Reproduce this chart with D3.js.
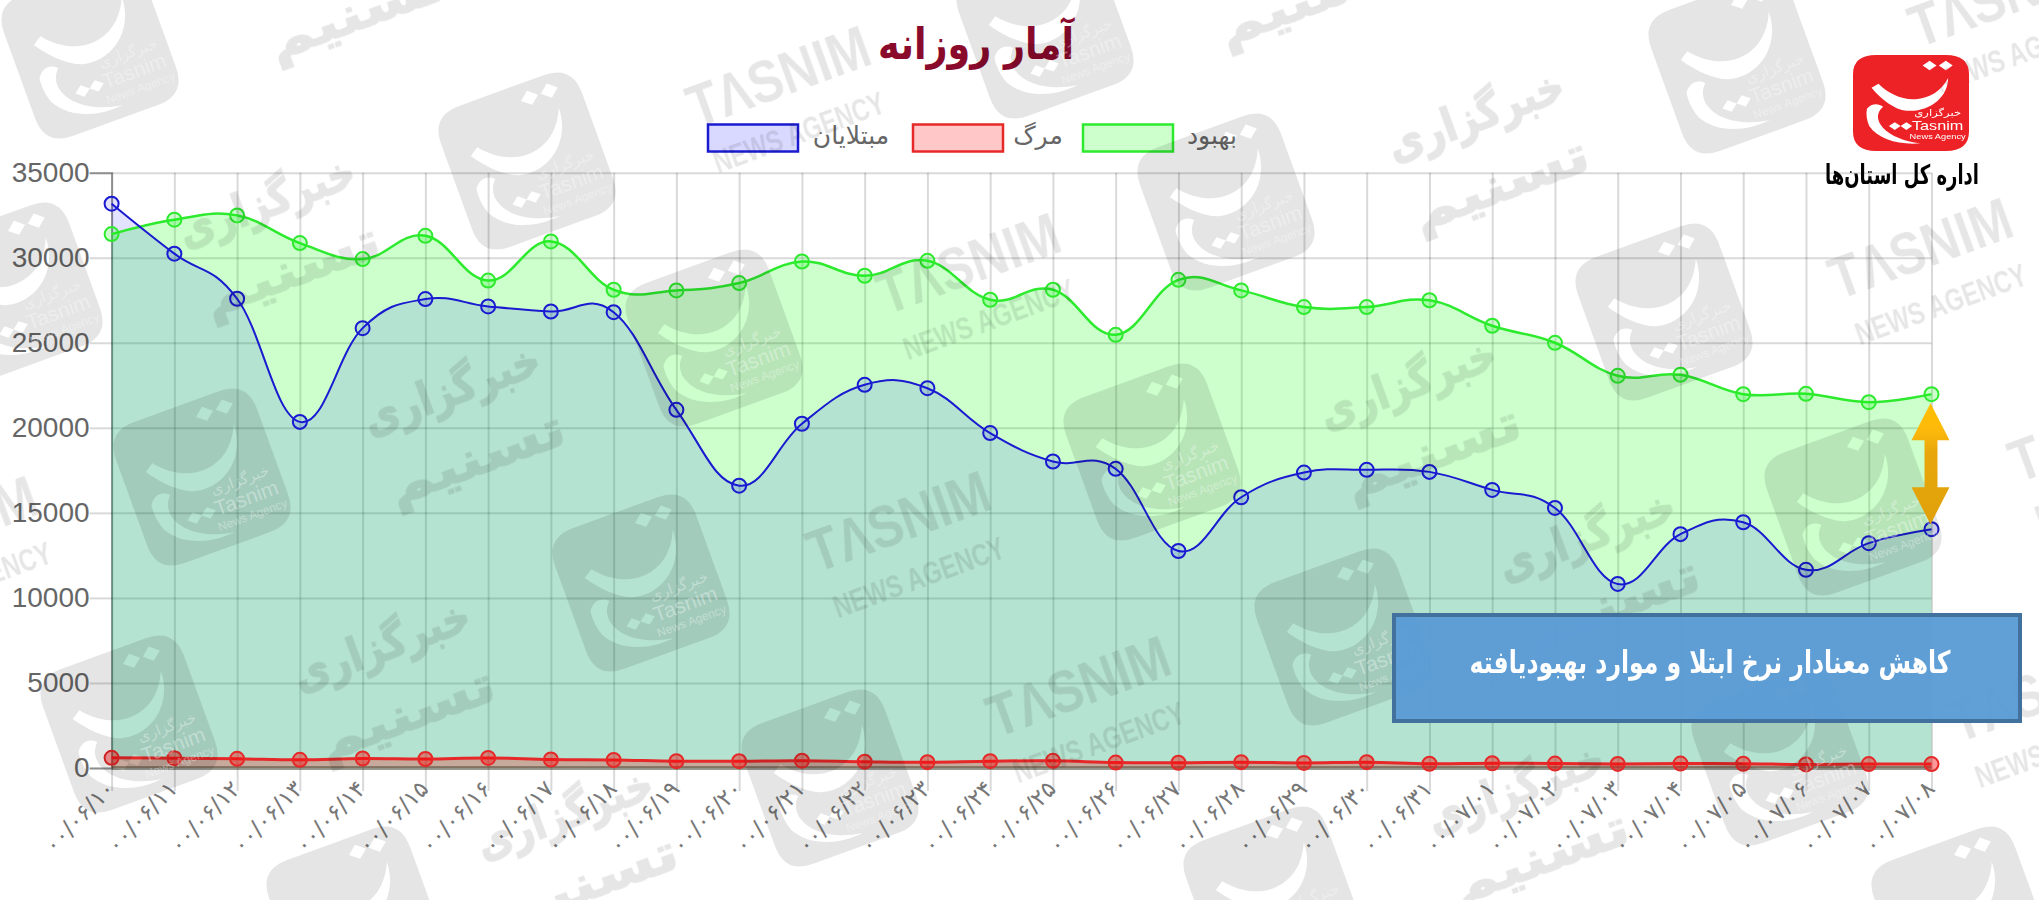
<!DOCTYPE html>
<html lang="fa">
<head>
<meta charset="utf-8">
<title>آمار روزانه</title>
<script src="https://cdnjs.cloudflare.com/ajax/libs/d3/7.8.5/d3.min.js"></script>
<style>
  html, body { margin: 0; padding: 0; background: #fff; }
  svg { display: block; }
  text { font-family: "DejaVu Sans", sans-serif; }
  .tick text { fill: #666; }
  .y-labels text { font-family: "Liberation Sans", Arial, sans-serif; font-size: 28px; }
  .x-labels text { font-size: 23px; letter-spacing: 3px; direction: ltr; fill: #777; }
</style>
</head>
<body>
<svg id="chart" width="2039" height="900"></svg>
<script>
const dates = ['۰۰/۰۶/۱۰', '۰۰/۰۶/۱۱', '۰۰/۰۶/۱۲', '۰۰/۰۶/۱۳', '۰۰/۰۶/۱۴', '۰۰/۰۶/۱۵', '۰۰/۰۶/۱۶', '۰۰/۰۶/۱۷',
  '۰۰/۰۶/۱۸', '۰۰/۰۶/۱۹', '۰۰/۰۶/۲۰', '۰۰/۰۶/۲۱', '۰۰/۰۶/۲۲', '۰۰/۰۶/۲۳', '۰۰/۰۶/۲۴', '۰۰/۰۶/۲۵', '۰۰/۰۶/۲۶',
  '۰۰/۰۶/۲۷', '۰۰/۰۶/۲۸', '۰۰/۰۶/۲۹', '۰۰/۰۶/۳۰', '۰۰/۰۶/۳۱', '۰۰/۰۷/۰۱', '۰۰/۰۷/۰۲', '۰۰/۰۷/۰۳', '۰۰/۰۷/۰۴',
  '۰۰/۰۷/۰۵', '۰۰/۰۷/۰۶', '۰۰/۰۷/۰۷', '۰۰/۰۷/۰۸'];

const infected = [33180, 30240, 27590, 20350, 25860, 27570, 27140, 26840, 26800, 21060, 16600, 20240, 22530, 22330,
  19690, 18020, 17590, 12760, 15920, 17370, 17530, 17410, 16350, 15290, 10820, 13750, 14450, 11650, 13220, 14040];
const recovered = [31390, 32240, 32490, 30860, 29920, 31290, 28660, 30960, 28120, 28080, 28510, 29780, 28940, 29820,
  27530, 28120, 25470, 28700, 28080, 27100, 27100, 27500, 26000, 25000, 23060, 23120, 21980, 22000, 21510, 21980];
const deaths = [600, 580, 540, 480, 560, 530, 590, 500, 470, 400, 400, 430, 370, 340, 400, 420, 320, 310, 340, 300,
  340, 250, 280, 260, 240, 260, 250, 210, 230, 230];

const yTicks = [0, 5000, 10000, 15000, 20000, 25000, 30000, 35000];

// watermark stamps over the picture
const stampLogos = [[90, 50], [527, 161], [1045, 30], [1737, 65], [14, 291], [714, 338], [1226, 202], [1664, 312],
  [202, 477], [641, 583], [1152, 452], [1853, 507], [129, 724], [1343, 637], [830, 778], [1780, 757], [355, 915],
  [1272, 895], [1960, 915]];
const stampEnglish = [[778, 75], [968, 262], [1920, 247], [2000, -5], [-55, 525], [898, 520], [1078, 685], [2100, 430], [2040, 690]];
const stampPersian = [[332, -54], [267, 203], [452, 391], [382, 647], [565, 815], [1476, 117], [1408, 385], [1587, 537], [1516, 790], [1282, -68]];

const svg = d3.select('#chart');

const x = d3.scalePoint().domain(dates).range([111.6, 1931.5]);
const y = d3.scaleLinear().domain([0, 35000]).range([768, 172.7]);

// same look as a chart.js tension 0.4 spline
const curve = d3.curveCardinal.tension(-0.2);

const series = [
  { name: 'بهبود', values: recovered, stroke: '#2eea2e', fill: 'rgba(0,255,0,0.2)', width: 2.5 },
  { name: 'مبتلایان', values: infected, stroke: '#1a1ad0', fill: 'rgba(0,0,255,0.11)', width: 2 },
  { name: 'مرگ', values: deaths, stroke: '#e62828', fill: 'rgba(255,0,0,0.25)', width: 3 }
];

// grid
svg.append('g')
  .attr('transform', `translate(0,${y(35000)})`)
  .call(d3.axisTop(x).tickSize(-(y(0) - y(35000) + 23)).tickFormat(''))
  .call(g => g.select('.domain').remove())
  .call(g => g.selectAll('line').attr('stroke', 'rgba(0,0,0,0.15)').attr('stroke-width', 2));

svg.append('g')
  .attr('class', 'y-labels')
  .attr('transform', `translate(${x(dates[0])},0)`)
  .call(d3.axisLeft(y).tickValues(yTicks).tickSizeOuter(0).tickFormat(d3.format('d')).tickSize(22).tickPadding(0))
  .call(g => g.select('.domain').attr('stroke', 'rgba(0,0,0,0.35)').attr('stroke-width', 2))
  .call(g => g.selectAll('line').attr('stroke', 'rgba(0,0,0,0.15)').attr('stroke-width', 2));

svg.append('g')
  .attr('transform', `translate(${x(dates[0])},0)`)
  .call(d3.axisRight(y).tickValues(yTicks).tickSize(x.range()[1] - x.range()[0]).tickFormat(''))
  .call(g => g.select('.domain').remove())
  .call(g => g.selectAll('line').attr('stroke', 'rgba(0,0,0,0.15)').attr('stroke-width', 2));

svg.append('g')
  .attr('class', 'x-labels')
  .attr('transform', `translate(0,${y(0)})`)
  .call(d3.axisBottom(x).tickSize(0).tickPadding(0))
  .call(g => g.select('.domain').remove())
  .call(g => g.selectAll('text')
    .attr('text-anchor', 'end')
    .attr('dy', 0)
    .attr('transform', 'translate(4,22) rotate(-46)'));

// areas, then lines and points
const area = d3.area().curve(curve).x((d, i) => x(dates[i])).y0(y(0)).y1(d => y(d));
const line = d3.line().curve(curve).x((d, i) => x(dates[i])).y(d => y(d));

series.forEach(s => {
  svg.append('path').datum(s.values).attr('d', area).attr('fill', s.fill);
});

svg.append('line')
  .attr('x1', x(dates[0])).attr('x2', x(dates[dates.length - 1]))
  .attr('y1', y(0)).attr('y2', y(0))
  .attr('stroke', 'rgba(60,60,40,0.45)').attr('stroke-width', 4);

series.forEach(s => {
  svg.append('path').datum(s.values).attr('d', line)
    .attr('fill', 'none').attr('stroke', s.stroke).attr('stroke-width', s.width);
  svg.append('g').selectAll('circle').data(s.values).join('circle')
    .attr('cx', (d, i) => x(dates[i]))
    .attr('cy', d => y(d))
    .attr('r', 7)
    .attr('fill', s.name === 'مرگ' ? 'rgba(255,0,0,0.4)' : s.fill)
    .attr('stroke', s.stroke)
    .attr('stroke-width', 2);
});

// title and legend
svg.append('text').attr('x', 976).attr('y', 59)
  .attr('text-anchor', 'middle').attr('font-size', 44).attr('font-weight', 'bold')
  .attr('textLength', 196).attr('lengthAdjust', 'spacingAndGlyphs')
  .attr('fill', '#8a0a2c').text('آمار روزانه');

const legend = [
  { name: 'مبتلایان', box: 708, label: 851, stroke: '#1a1ad0', fill: 'rgba(0,0,255,0.15)' },
  { name: 'مرگ', box: 913, label: 1038, stroke: '#e62828', fill: 'rgba(255,0,0,0.22)' },
  { name: 'بهبود', box: 1083, label: 1212, stroke: '#2eea2e', fill: 'rgba(0,255,0,0.2)' }
];
legend.forEach(l => {
  svg.append('rect').attr('x', l.box).attr('y', 124.5).attr('width', 90).attr('height', 27)
    .attr('fill', l.fill).attr('stroke', l.stroke).attr('stroke-width', 2.5);
  svg.append('text').attr('x', l.label).attr('y', 144)
    .attr('text-anchor', 'middle').attr('font-size', 25).attr('fill', '#666').text(l.name);
});

// logo shape, unit box 100x100
const glyph = 'M82,24 C82,44 66,60 46,58 C36,57 24,46 16,34 L22,30 C30,40 42,47 54,46 C66,45 76,38 82,24Z ' +
  'M12,56 C16,50 22,50 26,54 C20,60 20,68 26,76 C32,84 44,90 58,92 C40,94 22,88 14,74 C12,68 11,62 12,56Z ' +
  'M66,6 L72,11 L66,16 L60,11Z M80,6 L86,11 L80,16 L74,11Z M36,70 L41,74 L36,78 L31,74Z M46,70 L51,74 L46,78 L41,74Z';

function logoBody(g, fill, textFill) {
  g.append('path')
    .attr('fill-rule', 'evenodd')
    .attr('fill', fill)
    .attr('d', 'M20,0 H80 Q100,0 100,20 V80 Q100,100 80,100 H20 Q0,100 0,80 V20 Q0,0 20,0Z ' + glyph);
  g.append('text').attr('x', 73).attr('y', 64).attr('text-anchor', 'middle')
    .attr('font-size', 10).attr('fill', textFill).text('خبرگزاری');
  g.append('text').attr('x', 73).attr('y', 78).attr('text-anchor', 'middle')
    .attr('font-size', 14).style('font-family', '"Liberation Sans"').attr('fill', textFill).text('Tasnim');
  g.append('text').attr('x', 73).attr('y', 88).attr('text-anchor', 'middle')
    .attr('font-size', 8).style('font-family', '"Liberation Sans"').attr('fill', textFill).text('News Agency');
}

// watermarks
stampLogos.forEach(([cx, cy]) => {
  let g = svg.append('g').attr('transform', `translate(${cx},${cy}) rotate(-20) scale(1.5) translate(-50,-50)`);
  logoBody(g, 'rgba(0,0,0,0.1)', 'rgba(255,255,255,0.35)');
});

const stamps = svg.append('g').attr('opacity', 0.1).attr('fill', '#000').attr('stroke', '#000');

stampEnglish.forEach(([cx, cy]) => {
  let g = stamps.append('g').attr('transform', `translate(${cx},${cy}) rotate(-20)`).attr('stroke', 'none');
  g.append('text').attr('text-anchor', 'middle').attr('y', 22)
    .attr('textLength', 190).attr('lengthAdjust', 'spacingAndGlyphs')
    .style('font-family', '"Liberation Sans"').attr('font-weight', 'bold').attr('font-size', 60).text('TΛSNIM');
  g.append('text').attr('text-anchor', 'middle').attr('x', 0).attr('y', 72)
    .attr('textLength', 180).attr('lengthAdjust', 'spacingAndGlyphs')
    .style('font-family', '"Liberation Sans"').attr('font-weight', 'bold').attr('font-size', 32).text('NEWS AGENCY');
});

stampPersian.forEach(([cx, cy]) => {
  let g = stamps.append('g').attr('transform', `translate(${cx},${cy}) rotate(-20)`).attr('stroke-width', 1.5);
  if (cy > -40) {
    g.append('text').attr('text-anchor', 'middle').attr('y', 14)
      .attr('textLength', 185).attr('lengthAdjust', 'spacingAndGlyphs')
      .attr('font-weight', 'bold').attr('font-size', 46).text('خبرگزاری');
  }
  g.append('text').attr('text-anchor', 'middle').attr('x', 0).attr('y', 88)
    .attr('textLength', 185).attr('lengthAdjust', 'spacingAndGlyphs')
    .attr('font-weight', 'bold').attr('font-size', 50).text('تسنیم');
});

// annotation box
svg.append('rect').attr('x', 1394).attr('y', 615).attr('width', 626).attr('height', 106)
  .attr('fill', '#5b9bd5').attr('fill-opacity', 0.96).attr('stroke', '#41719c').attr('stroke-width', 4);
svg.append('text').attr('x', 1710).attr('y', 673)
  .attr('text-anchor', 'middle').attr('font-size', 31).attr('font-weight', 'bold')
  .attr('textLength', 481).attr('lengthAdjust', 'spacingAndGlyphs')
  .attr('fill', '#fff').text('کاهش معنادار نرخ ابتلا و موارد بهبودیافته');

// double arrow between the two series at the last day
const defs = svg.append('defs');
const grad = defs.append('linearGradient').attr('id', 'arrowFill').attr('x1', 0).attr('x2', 0).attr('y1', 0).attr('y2', 1);
grad.append('stop').attr('offset', '0%').attr('stop-color', '#ffc000');
grad.append('stop').attr('offset', '22%').attr('stop-color', '#fdb90a');
grad.append('stop').attr('offset', '40%').attr('stop-color', '#e8a80c');
grad.append('stop').attr('offset', '100%').attr('stop-color', '#dfa00a');

const lastX = x(dates[dates.length - 1]);
const arrowTop = y(recovered[recovered.length - 1]) + 9;
const arrowBottom = y(infected[infected.length - 1]) - 5;
svg.append('path')
  .attr('fill', 'url(#arrowFill)')
  .attr('d', d3.line()([
    [lastX - 1, arrowTop], [lastX + 18, arrowTop + 37], [lastX + 6, arrowTop + 37], [lastX + 6, arrowBottom - 37],
    [lastX + 18, arrowBottom - 37], [lastX - 1, arrowBottom], [lastX - 20, arrowBottom - 37], [lastX - 7, arrowBottom - 37],
    [lastX - 7, arrowTop + 37], [lastX - 20, arrowTop + 37]
  ]) + 'Z');

// agency logo
let brand = svg.append('g').attr('transform', 'translate(1853,55) scale(1.16,0.96)');
logoBody(brand, '#ed2227', '#fff');
svg.append('text').attr('x', 1902).attr('y', 184).attr('text-anchor', 'middle')
  .attr('font-size', 27).attr('font-weight', 'bold')
  .attr('textLength', 154).attr('lengthAdjust', 'spacingAndGlyphs')
  .attr('fill', '#000').text('اداره کل استان‌ها');
</script>
</body>
</html>
